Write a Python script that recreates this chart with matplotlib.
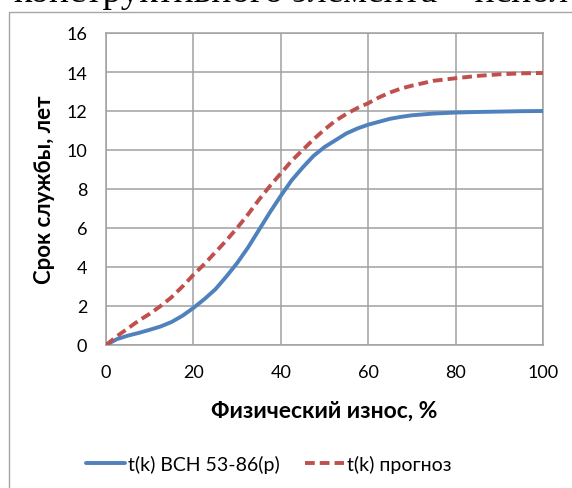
import matplotlib
matplotlib.use("Agg")
import matplotlib.pyplot as plt
from matplotlib.patches import Rectangle

# Data
wear = [0, 2.5, 5, 7.5, 10, 12.5, 15, 17.5, 20, 22.5, 25, 27.5, 30, 32.5, 35, 37.5, 40,
        42.5, 45, 47.5, 50, 52.5, 55, 57.5, 60, 62.5, 65, 67.5, 70, 75, 80, 85, 90, 95, 100]
t_vsn = [0, 0.3, 0.48, 0.62, 0.78, 0.95, 1.18, 1.5, 1.9, 2.35, 2.85, 3.5, 4.2, 5.0, 5.9,
         6.8, 7.65, 8.45, 9.1, 9.7, 10.15, 10.5, 10.85, 11.1, 11.3, 11.45, 11.6, 11.7,
         11.78, 11.87, 11.92, 11.95, 11.97, 11.99, 12.0]
t_prog = [0, 0.45, 0.85, 1.25, 1.6, 2.0, 2.45, 3.0, 3.6, 4.15, 4.75, 5.35, 6.0, 6.7, 7.45,
          8.15, 8.8, 9.45, 10.0, 10.55, 11.05, 11.5, 11.85, 12.15, 12.4, 12.7, 12.95, 13.15,
          13.3, 13.55, 13.68, 13.8, 13.88, 13.93, 13.95]
x_ticks = [0, 20, 40, 60, 80, 100]
y_ticks = [0, 2, 4, 6, 8, 10, 12, 14, 16]
label_vsn = "t(k) ВСН 53-86(р)"
label_prog = "t(k) прогноз"
xlabel = "Физический износ, %"
ylabel = "Срок службы, лет"
top_text = "конструктивного элемента – испол"

FAM = ["Lato", "Noto Sans", "DejaVu Sans"]
plt.rcParams["font.family"] = FAM

W, H = 572, 489
fig = plt.figure(figsize=(W / 100, H / 100), dpi=100)
fig.patch.set_facecolor("white")

# cut-off text line above the chart
fig.text(14 / W, 1 - 2 / H, top_text, family=["Liberation Serif", "DejaVu Serif"],
         fontsize=27, ha="left", va="baseline", color="black")

# chart area border
fig.patches.append(Rectangle((9 / W, -0.2), 1.2, 1.2 - 13 / H, transform=fig.transFigure,
                             fill=False, edgecolor="#a6a6a6", lw=1.0, zorder=0))

ax = fig.add_axes([106 / W, 1 - 346 / H, 437 / W, 312 / H])
ax.set_facecolor("white")
ax.set_xlim(0, 100)
ax.set_ylim(0, 16)
ax.set_xticks(x_ticks)
ax.set_yticks(y_ticks)
ax.grid(True, color="#a0a0a0", lw=1.1)
ax.set_axisbelow(True)
for s in ax.spines.values():
    s.set_color("#a0a0a0")
    s.set_linewidth(1.1)
ax.tick_params(length=0, labelsize=13, colors="black")
ax.tick_params(axis="x", pad=14)
ax.tick_params(axis="y", pad=13.5)

ax.plot(wear, t_vsn, color="#4F81BD", lw=2.8, label=label_vsn, solid_capstyle="round", zorder=3)
ax.plot(wear, t_prog, color="#C0504D", lw=2.8, ls=(0, (2.5, 1.3)), label=label_prog, zorder=3)

ax.set_xlabel(xlabel, fontsize=16.5, fontweight="bold", labelpad=14)
ax.set_ylabel(ylabel, fontsize=16, fontweight="bold", labelpad=8)

leg = fig.legend(loc="center", bbox_to_anchor=(269 / W, 1 - 465 / H), ncol=2, frameon=False,
                 fontsize=14, handlelength=2.0, columnspacing=1.3, handletextpad=0.15)

fig.savefig("out.png", dpi=100, facecolor="white")
